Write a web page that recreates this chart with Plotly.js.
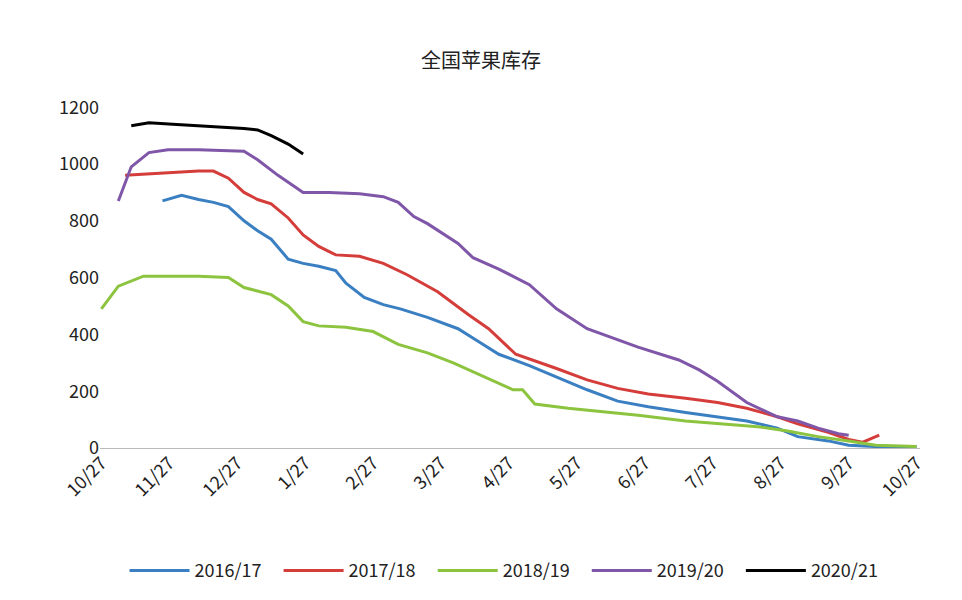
<!DOCTYPE html>
<html><head><meta charset="utf-8">
<script src="https://cdn.plot.ly/plotly-3.0.1.min.js"></script>
<style>body{margin:0;background:#fff}#chart{width:962px;height:600px}</style>
</head><body><div id="chart"></div>
<script>
// x is in months since 10/27
var tickLabels = ['10/27','11/27','12/27','1/27','2/27','3/27','4/27','5/27','6/27','7/27','8/27','9/27','10/27'];

var x1617 = [0.9,1.18,1.43,1.65,1.87,2.1,2.3,2.5,2.75,2.97,3.2,3.45,3.6,3.87,4.15,4.4,4.8,5.25,5.55,5.85,6.3,6.7,7.15,7.6,8.05,8.6,9.07,9.5,9.95,10.25,10.7,11,11.4,12];
var y1617 = [870,890,875,865,850,800,765,735,665,650,640,625,580,530,505,490,460,420,375,330,290,250,205,165,145,125,110,95,70,40,25,10,5,5];

var x1718 = [0.35,1.05,1.43,1.65,1.87,2.1,2.3,2.5,2.75,2.97,3.2,3.45,3.8,4.15,4.5,4.95,5.4,5.7,6.1,6.7,7.15,7.6,8.05,8.6,9.07,9.5,9.95,10.25,10.7,11,11.2,11.45];
var y1718 = [960,970,975,975,950,900,875,860,810,750,710,680,675,650,610,550,470,420,330,280,240,210,190,175,160,140,110,85,55,30,20,45];

var x1819 = [0,0.25,0.62,0.98,1.43,1.87,2.1,2.5,2.75,2.97,3.2,3.6,4.0,4.37,4.8,5.18,5.55,5.85,6.06,6.2,6.38,6.87,7.3,7.9,8.6,9.07,9.66,10.1,10.55,11,11.4,12];
var y1819 = [490,570,605,605,605,600,565,540,500,445,430,425,410,365,335,300,260,230,205,205,155,140,130,115,95,85,75,60,40,25,10,5];

var x1920 = [0.25,0.44,0.7,0.98,1.43,1.87,2.1,2.3,2.6,2.97,3.35,3.8,4.15,4.37,4.6,4.8,5.25,5.47,5.85,6.3,6.7,7.15,7.45,7.9,8.5,8.8,9.07,9.5,9.95,10.25,10.55,10.85,11];
var y1920 = [870,990,1040,1050,1050,1045,1045,1015,960,900,900,895,885,865,815,790,720,670,630,575,490,420,395,355,310,275,235,160,110,95,70,50,45];

var x2021 = [0.44,0.7,1.05,1.43,1.87,2.1,2.3,2.5,2.75,2.97];
var y2021 = [1135,1145,1140,1135,1130,1125,1120,1100,1070,1035];

var series = [
  ['2016/17', x1617, y1617, '#3a7fc1'],
  ['2017/18', x1718, y1718, '#d43d3a'],
  ['2018/19', x1819, y1819, '#8cc43f'],
  ['2019/20', x1920, y1920, '#7f56a8'],
  ['2020/21', x2021, y2021, '#000000']
];

var traces = series.map(function (s) {
  return { x: s[1], y: s[2], name: s[0] + '   ', type: 'scatter', mode: 'lines',
    line: { color: s[3], width: 3 } };
});

var font = 'Noto Sans CJK SC, sans-serif';
var layout = {
  width: 962, height: 600,
  paper_bgcolor: '#fff', plot_bgcolor: '#fff',
  font: { family: font, color: '#222', size: 18 },
  title: { text: '全国苹果库存', x: 0.5, y: 0.91, font: { size: 20, family: font } },
  margin: { l: 100, r: 42, t: 93, b: 151 },
  xaxis: { range: [-0.02, 12.05], tickvals: tickLabels.map(function (t, i) { return i; }),
    ticktext: tickLabels, tickangle: -45, showgrid: false, zeroline: false,
    showline: false, ticks: '' },
  yaxis: { range: [0, 1250], tickvals: [0,200,400,600,800,1000,1200],
    showgrid: false, zeroline: true, zerolinecolor: '#bbb', zerolinewidth: 1, ticks: '' },
  legend: { orientation: 'h', x: 0.5, xanchor: 'center', y: -0.29, itemwidth: 60, font: { size: 18 } },
  showlegend: true
};

Plotly.newPlot('chart', traces, layout, { displayModeBar: false });
</script></body></html>
